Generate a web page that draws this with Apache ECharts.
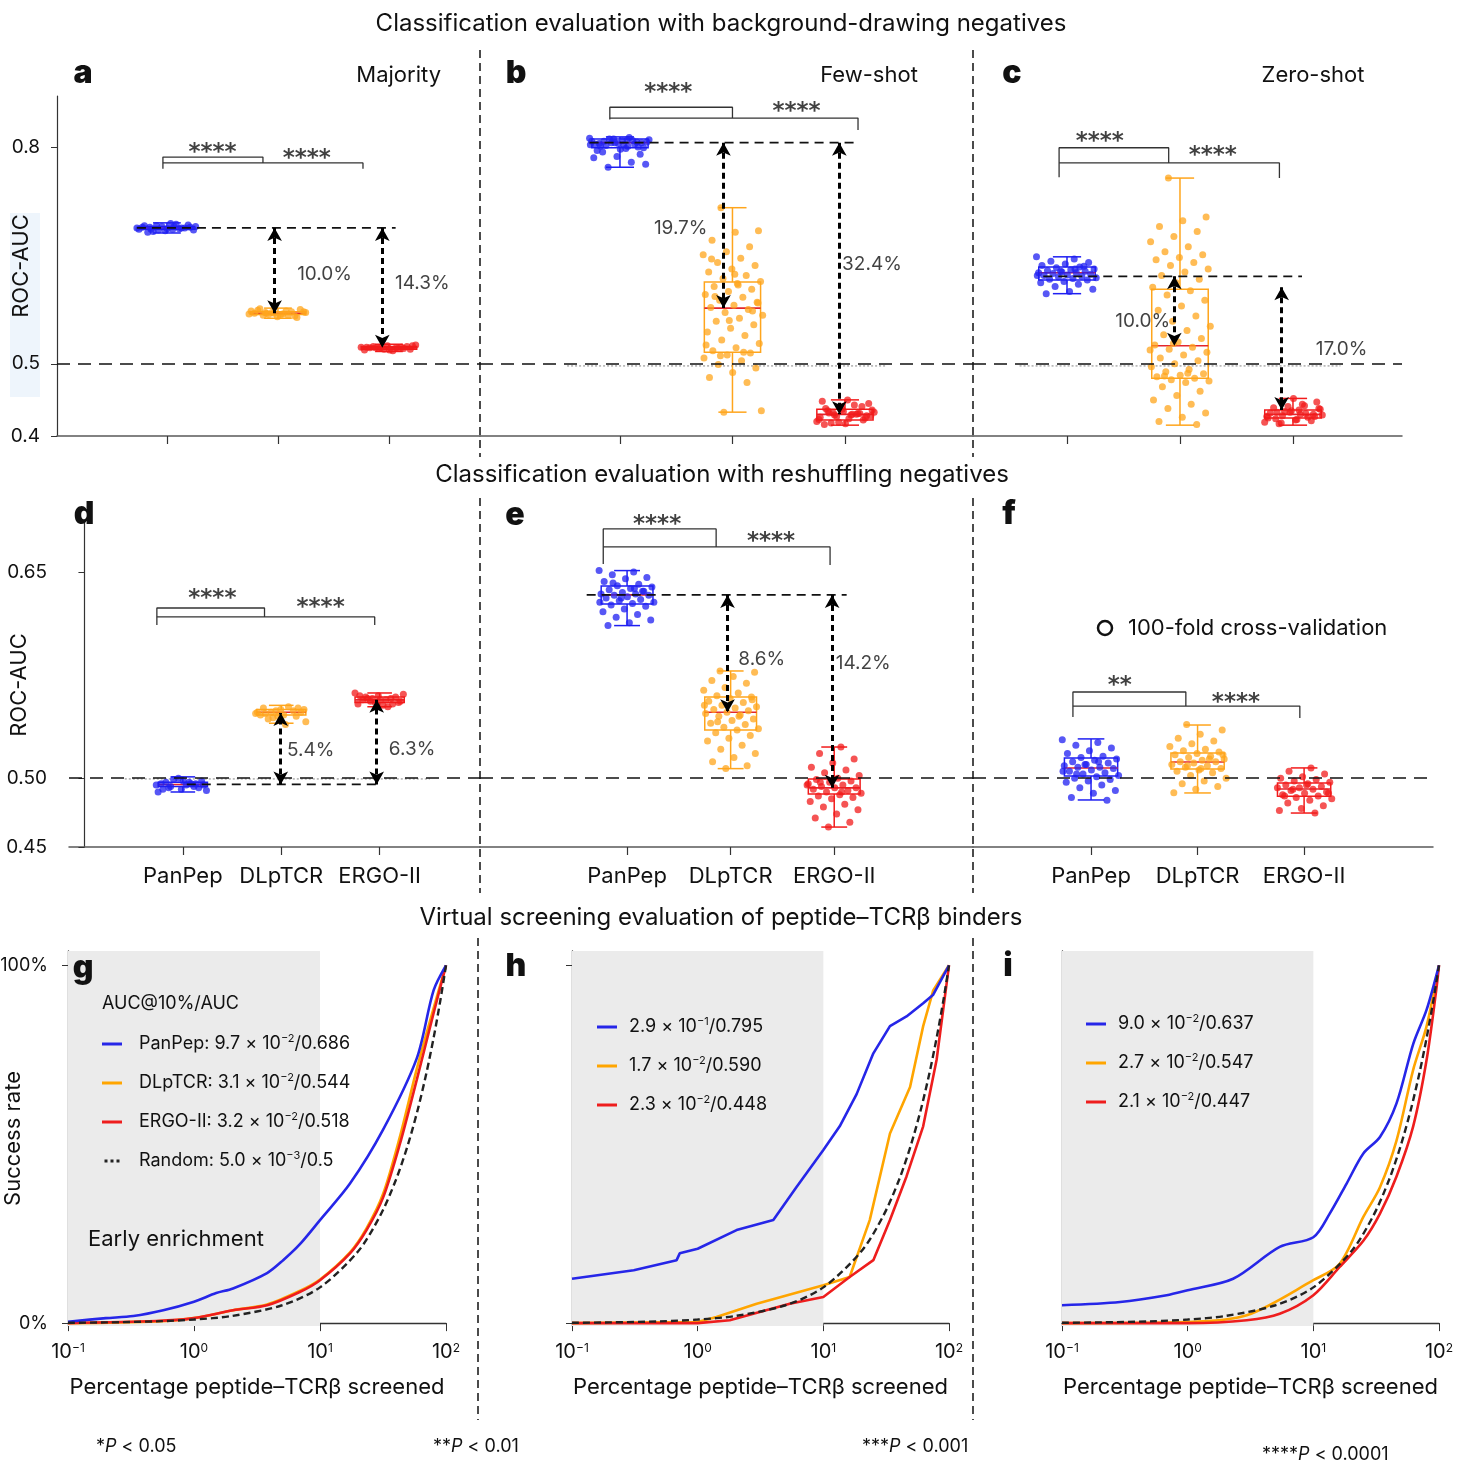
<!DOCTYPE html>
<html>
<head>
<meta charset="utf-8">
<script src="https://cdn.jsdelivr.net/npm/echarts@6/dist/echarts.min.js"></script>
<style>
  html, body { margin: 0; padding: 0; background: #fff; }
  #main { width: 1464px; height: 1480px; }
</style>
</head>
<body>
<div id="main"></div>
<script>
var FONT = 'Inter, Roboto, "Noto Sans", sans-serif';
var MODELS = ['PanPep', 'DLpTCR', 'ERGO-II'];
var COLORS = ['#1f1ff2', '#ffa51c', '#f21b1b'];
var LINE_COLORS = ['#2626e8', '#ffa500', '#ee1d1d'];

// ---- box summaries [min, Q1, median, Q3, max] per model ----
var A_BOX = [[0.681, 0.686, 0.688, 0.690, 0.695], [0.563, 0.568, 0.570, 0.572, 0.577], [0.517, 0.520, 0.522, 0.524, 0.527]];
var B_BOX = [[0.772, 0.799, 0.806, 0.811, 0.814], [0.433, 0.516, 0.577, 0.613, 0.716], [0.415, 0.422, 0.430, 0.437, 0.450]];
var C_BOX = [[0.597, 0.616, 0.626, 0.634, 0.648], [0.415, 0.480, 0.525, 0.603, 0.757], [0.415, 0.425, 0.430, 0.436, 0.452]];
var D_BOX = [[0.490, 0.494, 0.4955, 0.497, 0.501], [0.540, 0.546, 0.548, 0.550, 0.553], [0.552, 0.555, 0.557, 0.559, 0.562]];
var E_BOX = [[0.611, 0.6267, 0.6333, 0.6398, 0.651], [0.507, 0.535, 0.548, 0.559, 0.578], [0.4645, 0.4886, 0.493, 0.4995, 0.5227]];
var F_BOX = [[0.4842, 0.5016, 0.5075, 0.5147, 0.5286], [0.4893, 0.5067, 0.5118, 0.5184, 0.5387], [0.4747, 0.4869, 0.4922, 0.4965, 0.5075]];

// ---- ROC-AUC of each cross-validation fold ----
var A_PANPEP = [0.688, 0.690, 0.686, 0.692, 0.684, 0.689, 0.687, 0.691, 0.685, 0.694, 0.682, 0.688, 0.690, 0.686, 0.693, 0.683, 0.689, 0.687, 0.691, 0.688, 0.685, 0.690, 0.686, 0.689];
var A_DLPTCR = [0.570, 0.572, 0.568, 0.574, 0.566, 0.571, 0.569, 0.573, 0.567, 0.575, 0.565, 0.570, 0.572, 0.568, 0.571, 0.569, 0.576, 0.564, 0.570, 0.573, 0.567, 0.571];
var A_ERGO = [0.522, 0.524, 0.520, 0.525, 0.519, 0.523, 0.521, 0.526, 0.518, 0.522, 0.524, 0.520, 0.523, 0.521, 0.522, 0.525, 0.519, 0.523, 0.521, 0.522];

var B_PANPEP = [0.812, 0.810, 0.808, 0.806, 0.805, 0.804, 0.809, 0.811, 0.807, 0.803, 0.801, 0.800, 0.806, 0.808, 0.813, 0.802, 0.799, 0.797, 0.795, 0.804, 0.806, 0.810, 0.798, 0.793, 0.790, 0.787, 0.785, 0.779, 0.772, 0.776, 0.809, 0.805, 0.807, 0.811, 0.803, 0.801];
var B_DLPTCR = [0.716, 0.684, 0.682, 0.671, 0.662, 0.655, 0.651, 0.646, 0.640, 0.636, 0.631, 0.627, 0.622, 0.618, 0.614, 0.611, 0.607, 0.603, 0.600, 0.596, 0.592, 0.588, 0.585, 0.581, 0.578, 0.575, 0.571, 0.567, 0.563, 0.559, 0.554, 0.549, 0.544, 0.539, 0.533, 0.528, 0.522, 0.518, 0.515, 0.512, 0.508, 0.504, 0.499, 0.494, 0.488, 0.481, 0.474, 0.433, 0.435, 0.609, 0.593, 0.573, 0.560, 0.526, 0.516, 0.511, 0.584, 0.624, 0.645];
var B_ERGO = [0.430, 0.432, 0.428, 0.434, 0.426, 0.431, 0.429, 0.436, 0.424, 0.438, 0.422, 0.440, 0.420, 0.443, 0.418, 0.445, 0.417, 0.448, 0.431, 0.427, 0.433, 0.429, 0.435, 0.425, 0.437, 0.423, 0.430, 0.432, 0.428, 0.450, 0.416, 0.441, 0.419];

var C_PANPEP = [0.648, 0.645, 0.642, 0.640, 0.638, 0.636, 0.634, 0.633, 0.631, 0.630, 0.629, 0.628, 0.627, 0.626, 0.626, 0.625, 0.624, 0.623, 0.622, 0.621, 0.620, 0.619, 0.618, 0.617, 0.616, 0.614, 0.612, 0.610, 0.607, 0.603, 0.600, 0.597, 0.635, 0.628, 0.622, 0.631];
var C_DLPTCR = [0.757, 0.703, 0.698, 0.690, 0.683, 0.676, 0.669, 0.662, 0.655, 0.651, 0.647, 0.644, 0.640, 0.636, 0.631, 0.627, 0.622, 0.617, 0.612, 0.606, 0.601, 0.595, 0.588, 0.580, 0.574, 0.566, 0.559, 0.552, 0.546, 0.540, 0.535, 0.530, 0.526, 0.523, 0.520, 0.516, 0.512, 0.508, 0.504, 0.500, 0.496, 0.492, 0.489, 0.486, 0.484, 0.482, 0.480, 0.478, 0.476, 0.474, 0.468, 0.462, 0.456, 0.450, 0.444, 0.438, 0.432, 0.426, 0.420, 0.416, 0.528, 0.519, 0.487, 0.483];
var C_ERGO = [0.430, 0.433, 0.427, 0.435, 0.425, 0.431, 0.428, 0.437, 0.423, 0.439, 0.421, 0.441, 0.419, 0.444, 0.417, 0.447, 0.452, 0.432, 0.426, 0.434, 0.429, 0.436, 0.424, 0.430, 0.433, 0.427, 0.442, 0.418, 0.438, 0.422];

var D_PANPEP = [0.495, 0.497, 0.493, 0.498, 0.492, 0.496, 0.494, 0.499, 0.491, 0.495, 0.497, 0.493, 0.500, 0.490, 0.496, 0.494, 0.495, 0.498, 0.492, 0.496];
var D_DLPTCR = [0.548, 0.550, 0.546, 0.551, 0.545, 0.549, 0.547, 0.552, 0.543, 0.548, 0.550, 0.546, 0.549, 0.544, 0.541, 0.539, 0.547, 0.551, 0.545, 0.548];
var D_ERGO = [0.557, 0.559, 0.555, 0.560, 0.554, 0.558, 0.556, 0.561, 0.553, 0.557, 0.559, 0.555, 0.562, 0.552, 0.558, 0.556, 0.557, 0.560, 0.554, 0.558];

var E_PANPEP = [0.651, 0.650, 0.648, 0.646, 0.645, 0.643, 0.641, 0.640, 0.639, 0.638, 0.637, 0.636, 0.635, 0.634, 0.634, 0.633, 0.633, 0.632, 0.631, 0.630, 0.629, 0.628, 0.627, 0.626, 0.625, 0.623, 0.621, 0.619, 0.617, 0.615, 0.613, 0.611, 0.636, 0.631, 0.628, 0.638, 0.642];
var E_DLPTCR = [0.578, 0.577, 0.574, 0.571, 0.569, 0.566, 0.564, 0.562, 0.560, 0.559, 0.558, 0.556, 0.555, 0.553, 0.552, 0.551, 0.550, 0.549, 0.548, 0.547, 0.546, 0.545, 0.543, 0.542, 0.540, 0.539, 0.537, 0.536, 0.535, 0.533, 0.531, 0.529, 0.527, 0.524, 0.521, 0.518, 0.515, 0.512, 0.509, 0.507, 0.553, 0.545, 0.541, 0.557];
var E_ERGO = [0.5227, 0.518, 0.514, 0.511, 0.508, 0.506, 0.504, 0.502, 0.500, 0.499, 0.498, 0.497, 0.496, 0.495, 0.494, 0.493, 0.493, 0.492, 0.491, 0.490, 0.489, 0.488, 0.487, 0.486, 0.485, 0.483, 0.481, 0.479, 0.477, 0.474, 0.471, 0.468, 0.4645, 0.495, 0.490, 0.497];

var F_PANPEP = [0.528, 0.526, 0.524, 0.522, 0.520, 0.518, 0.516, 0.515, 0.514, 0.513, 0.512, 0.511, 0.510, 0.509, 0.508, 0.508, 0.507, 0.506, 0.505, 0.504, 0.503, 0.502, 0.501, 0.500, 0.499, 0.498, 0.497, 0.495, 0.493, 0.491, 0.489, 0.486, 0.484, 0.510, 0.505, 0.512, 0.503];
var F_DLPTCR = [0.539, 0.535, 0.532, 0.529, 0.527, 0.525, 0.523, 0.521, 0.520, 0.519, 0.518, 0.517, 0.516, 0.515, 0.514, 0.513, 0.512, 0.512, 0.511, 0.510, 0.509, 0.508, 0.507, 0.506, 0.505, 0.504, 0.502, 0.500, 0.498, 0.496, 0.494, 0.492, 0.4895, 0.514, 0.509, 0.517, 0.507];
var F_ERGO = [0.5075, 0.505, 0.503, 0.501, 0.500, 0.499, 0.498, 0.497, 0.496, 0.495, 0.494, 0.493, 0.493, 0.492, 0.491, 0.490, 0.489, 0.488, 0.487, 0.486, 0.485, 0.484, 0.482, 0.480, 0.478, 0.4765, 0.4748, 0.492, 0.489, 0.495, 0.487];

// ---- virtual screening curves [percentage screened, success rate %] ----
var G_PANPEP = [[0.1, 0.4], [0.2, 1.4], [0.33, 2.0], [0.57, 3.6], [1, 6], [1.5, 8.4], [2.04, 9.7], [3.8, 14], [5.1, 17.6], [6.9, 22], [10, 28.8], [17.3, 39], [31.6, 54], [58.6, 74], [79.7, 93], [100, 100]];
var G_DLPTCR = [[0.1, 0], [0.5, 0.5], [1, 1.4], [2.04, 3.6], [3.8, 5.2], [6.9, 9], [10, 12.2], [17.3, 19.8], [23.4, 26.5], [31.6, 36], [43, 52], [58.6, 71], [79.7, 88], [100, 100]];
var G_ERGO = [[0.1, 0], [0.5, 0.6], [1, 1.4], [2.04, 3.6], [3.8, 5], [6.9, 8.7], [10, 12], [17.3, 19.5], [23.4, 26], [31.6, 35], [43, 50], [58.6, 68], [79.7, 86.6], [100, 100]];
var H_PANPEP = [[0.1, 12.4], [0.31, 14.8], [0.68, 17.6], [0.72, 19.5], [1, 20.8], [2.04, 26], [4, 28.8], [6.1, 38], [10, 48.4], [13.5, 55], [18.4, 64], [25, 75.4], [33.9, 83], [45.9, 85.7], [62.3, 89.4], [74.9, 91.8], [100, 100]];
var H_DLPTCR = [[0.1, 0], [1, 0.3], [1.41, 1.7], [2.95, 5.4], [10, 10.6], [16.2, 12.9], [23.4, 28.8], [33.9, 53], [49, 66], [62.3, 83], [74.9, 93], [100, 100]];
var H_ERGO = [[0.1, 0], [1, 0], [1.8, 0.8], [5.4, 5.4], [10, 7.3], [16.2, 12.9], [25, 17.6], [33.9, 28.8], [45.9, 41], [62.3, 55], [79.7, 73.6], [100, 100]];
var I_PANPEP = [[0.1, 5], [0.29, 5.9], [0.68, 7.8], [1, 9.2], [2.3, 12.4], [5.4, 21.3], [10, 24], [13.5, 30.6], [18.4, 39], [25, 47.4], [33.9, 52], [45.9, 61.4], [62.3, 78], [79.7, 87.6], [100, 100]];
var I_DLPTCR = [[0.1, 0], [1, 0.3], [2.95, 2.2], [10, 12], [16.2, 16.6], [25, 29.7], [33.9, 38], [45.9, 51], [62.3, 70.8], [79.7, 83], [100, 100]];
var I_ERGO = [[0.1, 0], [1, 0], [2.95, 0.8], [5.4, 2.6], [10, 7.8], [16.2, 15.7], [25, 23], [33.9, 30.6], [45.9, 41], [62.3, 55], [79.7, 73.6], [95, 93], [100, 100]];
var RANDOM = [[0.1, 0.1], [0.2, 0.2], [0.5, 0.5], [1, 1], [2, 2], [5, 5], [10, 10], [20, 20], [30, 30], [40, 40], [50, 50], [60, 60], [70, 70], [80, 80], [90, 90], [100, 100]];

// AUC@10% / AUC
var G_AUC10 = [0.097, 0.031, 0.032, 0.005];
var G_AUC = ['0.686', '0.544', '0.518', '0.5'];
var H_AUC10 = [0.29, 0.017, 0.023];
var H_AUC = ['0.795', '0.590', '0.448'];
var I_AUC10 = [0.090, 0.027, 0.021];
var I_AUC = ['0.637', '0.547', '0.447'];

// ---- layout of the box panels ----
var PANELS = [
  { grid: [57, 96, 423, 340], xr: [0.01, 3.82], yr: [0.4, 0.8706], yTicks: [0.4, 0.5, 0.8], digits: 1, showY: true, names: false,
    box: A_BOX, pts: [A_PANPEP, A_DLPTCR, A_ERGO], ref: [0.73, 3.06, 0.688], dotted: null,
    arrows: [[1.97, 0.688, 0.570], [2.94, 0.688, 0.522]],
    pct: [['10.0%', 2.42, 0.624], ['14.3%', 3.30, 0.612]],
    br: [0.964, 1.865, 2.766, 0.786, 0.778, 0.770, 0.770], stars: [['****', 1.41, 0.792], ['****', 2.26, 0.783]] },
  { grid: [480, 96, 493, 340], xr: [-0.244, 4.138], yr: [0.4, 0.8706], yTicks: [0.4, 0.5, 0.8], digits: 1, showY: false, names: false,
    box: B_BOX, pts: [B_PANPEP, B_DLPTCR, B_ERGO], ref: [0.73, 3.12, 0.806], dotted: [0.53, 3.37, 0.497],
    arrows: [[1.92, 0.806, 0.577], [2.95, 0.806, 0.430]],
    pct: [['19.7%', 1.54, 0.688], ['32.4%', 3.24, 0.638]],
    br: [0.91, 2.0, 3.116, 0.855, 0.840, 0.838, 0.8235], stars: [['****', 1.43, 0.875], ['****', 2.57, 0.848]] },
  { grid: [973, 96, 429, 340], xr: [0.168, 3.965], yr: [0.4, 0.8706], yTicks: [0.4, 0.5, 0.8], digits: 1, showY: false, names: false,
    box: C_BOX, pts: [C_PANPEP, C_DLPTCR, C_ERGO], ref: [0.79, 3.08, 0.621], dotted: [0.58, 3.42, 0.497],
    arrows: [[1.95, 0.621, 0.525], [2.90, 0.606, 0.436]],
    pct: [['10.0%', 1.67, 0.559], ['17.0%', 3.43, 0.520]],
    br: [0.93, 1.90, 2.88, 0.799, 0.778, 0.758, 0.757], stars: [['****', 1.29, 0.807], ['****', 2.29, 0.788]] },
  { grid: [69, 523, 411, 324], xr: [-0.157, 4.02], yr: [0.45, 0.6856], yTicks: [0.45, 0.5, 0.65], digits: 2, showY: true, names: true,
    box: D_BOX, pts: [D_PANPEP, D_DLPTCR, D_ERGO], ref: [1.04, 3.0, 0.4955], dotted: [0.41, 3.51, 0.4995],
    arrows: [[1.995, 0.4955, 0.5475], [2.97, 0.4955, 0.557]],
    pct: [['5.4%', 2.30, 0.5206], ['6.3%', 3.33, 0.5213]],
    br: [0.736, 1.83, 2.95, 0.6238, 0.6173, 0.6115, 0.6115], stars: [['****', 1.30, 0.6300], ['****', 2.40, 0.6238]] },
  { grid: [480, 523, 493, 324], xr: [-0.42, 4.34], yr: [0.45, 0.6856], yTicks: [0.45, 0.5, 0.65], digits: 2, showY: false, names: true,
    box: E_BOX, pts: [E_PANPEP, E_DLPTCR, E_ERGO], ref: [0.61, 3.12, 0.6333], dotted: null,
    arrows: [[1.97, 0.6333, 0.548], [2.98, 0.6333, 0.493]],
    pct: [['8.6%', 2.30, 0.5867], ['14.2%', 3.28, 0.5838]],
    br: [0.77, 1.86, 2.96, 0.6813, 0.6682, 0.6558, 0.6551], stars: [['****', 1.29, 0.6842], ['****', 2.39, 0.6718]] },
  { grid: [973, 523, 460, 324], xr: [-0.108, 4.21], yr: [0.45, 0.6856], yTicks: [0.45, 0.5, 0.65], digits: 2, showY: false, names: true,
    box: F_BOX, pts: [F_PANPEP, F_DLPTCR, F_ERGO], ref: null, dotted: null,
    arrows: [], pct: [],
    br: [0.83, 1.89, 2.96, 0.5627, 0.5525, 0.5445, 0.5438], stars: [['**', 1.27, 0.5671], ['****', 2.36, 0.5547]] }
];

var CURVE_PANELS = [
  { grid: [68, 951, 378, 375], curves: [G_PANPEP, G_DLPTCR, G_ERGO], auc10: G_AUC10, auc: G_AUC, legend: [102, 1033], textPad: 12,
    prefix: true, yLabels: true, yTicks: true, early: true, smooth: 0.3 },
  { grid: [572, 951, 377, 375], curves: [H_PANPEP, H_DLPTCR, H_ERGO], auc10: H_AUC10, auc: H_AUC, legend: [597, 1016], textPad: 7,
    prefix: false, yLabels: false, yTicks: true, early: false, smooth: 0 },
  { grid: [1062, 951, 377, 375], curves: [I_PANPEP, I_DLPTCR, I_ERGO], auc10: I_AUC10, auc: I_AUC, legend: [1086, 1013], textPad: 7,
    prefix: false, yLabels: false, yTicks: false, early: false, smooth: 0.3 }
];

function jitter(i, k) {
  var f = (i * 0.618034 + k * 0.31) % 1;
  return (f * 2 - 1) * 0.27;
}

function sci(v) {
  var e = Math.floor(Math.log10(v) + 1e-9);
  var m = (v / Math.pow(10, e)).toFixed(1);
  return m + ' \u00d7 10{s|' + String(e).replace('-', '\u2212') + '}';
}

function renderBox(params, api) {
  var x = api.value(0);
  var lo = api.coord([x, api.value(1)]);
  var q1 = api.coord([x, api.value(2)]);
  var md = api.coord([x, api.value(3)]);
  var q3 = api.coord([x, api.value(4)]);
  var hi = api.coord([x, api.value(5)]);
  var w = api.size([0.5, 0])[0];
  var cx = lo[0];
  var c = COLORS[params.dataIndex];
  var st = { stroke: c, lineWidth: 1.5 };
  return {
    type: 'group',
    children: [
      { type: 'line', shape: { x1: cx, y1: hi[1], x2: cx, y2: q3[1] }, style: st },
      { type: 'line', shape: { x1: cx, y1: q1[1], x2: cx, y2: lo[1] }, style: st },
      { type: 'line', shape: { x1: cx - w / 4, y1: hi[1], x2: cx + w / 4, y2: hi[1] }, style: st },
      { type: 'line', shape: { x1: cx - w / 4, y1: lo[1], x2: cx + w / 4, y2: lo[1] }, style: st },
      { type: 'rect', shape: { x: cx - w / 2, y: q3[1], width: w, height: q1[1] - q3[1] },
        style: { stroke: c, lineWidth: 1.5, fill: 'rgba(0,0,0,0)' } },
      { type: 'line', shape: { x1: cx - w / 2, y1: md[1], x2: cx + w / 2, y2: md[1] },
        style: { stroke: '#e3262e', lineWidth: 1.6 } }
    ]
  };
}

function lineSeries(gi, pts, style, z) {
  return {
    type: 'line', xAxisIndex: gi, yAxisIndex: gi, data: pts, symbol: 'none',
    clip: false, silent: true, lineStyle: style, z: z || 4
  };
}

function textSeries(gi, items, size, weight, family) {
  return {
    type: 'scatter', xAxisIndex: gi, yAxisIndex: gi, clip: false, silent: true,
    symbolSize: 1, itemStyle: { color: 'rgba(0,0,0,0)' }, z: 6,
    data: items.map(function (t) { return { value: [t[1], t[2]], name: t[0] }; }),
    label: { show: true, position: 'inside', formatter: '{b}', color: '#111',
      fontSize: size, fontWeight: weight, fontFamily: family || FONT }
  };
}

var option = {
  animation: false,
  backgroundColor: '#fff',
  textStyle: { fontFamily: FONT },
  grid: [], xAxis: [], yAxis: [], series: [], legend: [], graphic: []
};

// ---- box plot panels ----
PANELS.forEach(function (p, gi) {
  option.grid.push({ left: p.grid[0], top: p.grid[1], width: p.grid[2], height: p.grid[3], outerBoundsMode: 'none' });
  option.xAxis.push({
    gridIndex: gi, type: 'value', min: p.xr[0], max: p.xr[1],
    axisLine: { show: true, lineStyle: { color: '#5a5a5a', width: 1.5 } },
    axisTick: { show: true, customValues: [1, 2, 3], length: 8, lineStyle: { color: '#333', width: 1.2 } },
    axisLabel: { show: p.names, customValues: [1, 2, 3], margin: 18, fontSize: 22, color: '#111',
      formatter: function (v) { return MODELS[Math.round(v) - 1]; } },
    splitLine: { show: false }
  });
  var y = {
    gridIndex: gi, type: 'value', min: p.yr[0], max: p.yr[1], show: p.showY,
    axisLine: { show: true, lineStyle: { color: '#333', width: 1.2 } },
    axisTick: { show: true, customValues: p.yTicks, length: 6, lineStyle: { color: '#333' } },
    axisLabel: { customValues: p.yTicks, margin: p.digits === 1 ? 17 : 22, fontSize: 19, color: '#111',
      formatter: function (v) { return v.toFixed(p.digits); } },
    splitLine: { show: false }
  };
  if (gi === 0 || gi === 3) {
    y.name = 'ROC-AUC';
    y.nameLocation = 'middle';
    y.nameMoveOverlap = false;
    y.nameGap = gi === 0 ? 25 : 39;
    y.nameTextStyle = { fontSize: 22, color: '#111' };
  }
  option.yAxis.push(y);

  option.series.push({
    type: 'custom', xAxisIndex: gi, yAxisIndex: gi, renderItem: renderBox, silent: true, z: 2,
    data: p.box.map(function (b, k) { return [k + 1].concat(b); })
  });

  p.pts.forEach(function (vals, k) {
    var s = {
      type: 'scatter', name: 'fold-' + gi + '-' + k, xAxisIndex: gi, yAxisIndex: gi, silent: true, z: 3,
      symbolSize: 7, itemStyle: { color: COLORS[k], opacity: 0.75 },
      data: vals.map(function (v, i) { return [k + 1 + jitter(i, k), v]; })
    };
    if (k === 0) {
      var ml = [{ yAxis: 0.5, lineStyle: { type: [13, 8], color: '#111', width: 1.6 } }];
      var arrowStyle = { type: [6, 4], color: '#000', width: 3 };
      p.arrows.forEach(function (a) {
        ml.push([
          { coord: [a[0], a[1]], symbol: 'arrow', symbolSize: [11, 13], lineStyle: arrowStyle },
          { coord: [a[0], a[2]], symbol: 'arrow', symbolSize: [11, 13], lineStyle: arrowStyle }
        ]);
      });
      s.markLine = { silent: true, symbol: ['none', 'none'], label: { show: false }, animation: false, z: 5, data: ml };
    }
    option.series.push(s);
  });

  if (p.ref) {
    option.series.push(lineSeries(gi, [[p.ref[0], p.ref[2]], [p.ref[1], p.ref[2]]],
      { type: [9, 6], color: '#111', width: 1.8 }, 4));
  }
  if (p.dotted) {
    option.series.push(lineSeries(gi, [[p.dotted[0], p.dotted[2]], [p.dotted[1], p.dotted[2]]],
      { type: [2, 2], color: '#9a9a9a', width: 1.2 }, 1));
  }
  var b = p.br;
  var brStyle = { color: '#333', width: 1.3, type: 'solid' };
  option.series.push(lineSeries(gi, [[b[0], b[5]], [b[0], b[3]], [b[1], b[3]], [b[1], b[4]]], brStyle, 4));
  option.series.push(lineSeries(gi, [[b[0], b[4]], [b[2], b[4]], [b[2], b[6]]], brStyle, 4));
  option.series.push(textSeries(gi, p.stars, 23, 'bold', '"DejaVu Sans", sans-serif'));
  if (p.pct.length) option.series.push(textSeries(gi, p.pct, 19, 'normal'));
});

// ---- virtual screening panels ----
var DOTS = 'path://M0,0h4v4h-4zM8,0h4v4h-4zM16,0h4v4h-4z';
CURVE_PANELS.forEach(function (p, ci) {
  var gi = PANELS.length + ci;
  option.grid.push({ left: p.grid[0], top: p.grid[1], width: p.grid[2], height: p.grid[3], outerBoundsMode: 'none' });
  option.xAxis.push({
    gridIndex: gi, type: 'log', logBase: 10, min: 0.1, max: 100,
    name: 'Percentage peptide\u2013TCR\u03b2 screened', nameLocation: 'middle', nameGap: 50, nameMoveOverlap: false,
    nameTextStyle: { fontSize: 22, color: '#111' },
    axisLine: { show: true, lineStyle: { color: '#333', width: 1.3 } },
    axisTick: { show: true, length: 8, lineStyle: { color: '#333' } },
    minorTick: { show: false },
    axisLabel: { margin: 16, fontSize: 20, color: '#111',
      formatter: function (v) {
        var e = Math.round(Math.log10(v));
        return '10{s|' + String(e).replace('-', '\u2212') + '}';
      },
      rich: { s: { fontSize: 12, verticalAlign: 'top', color: '#111' } } },
    splitLine: { show: false }
  });
  var y = {
    gridIndex: gi, type: 'value', min: -0.8, max: 104,
    axisLine: { show: true, lineStyle: { color: '#333', width: 1.3 } },
    axisTick: { show: p.yTicks, customValues: [0, 100], length: 6, lineStyle: { color: '#333' } },
    axisLabel: { show: p.yLabels, customValues: [0, 100], margin: 20, fontSize: 18, color: '#111',
      formatter: function (v) { return v + '%'; } },
    splitLine: { show: false }
  };
  if (p.yLabels) {
    y.name = 'Success rate';
    y.nameLocation = 'middle';
    y.nameMoveOverlap = false;
    y.nameGap = 44;
    y.nameTextStyle = { fontSize: 22, color: '#111' };
  }
  option.yAxis.push(y);

  var legendNames = [];
  p.curves.forEach(function (pts, k) {
    var s = {
      type: 'line', name: MODELS[k], xAxisIndex: gi, yAxisIndex: gi, data: pts, showSymbol: false, symbol: 'none',
      smooth: p.smooth, color: LINE_COLORS[k], lineStyle: { color: LINE_COLORS[k], width: 2.6 }, z: 3 + (k === 0 ? 1 : 0)
    };
    if (k === 0) {
      s.markArea = {
        silent: true, itemStyle: { color: '#ebebeb' },
        label: p.early ? { show: true, position: [20, 277], formatter: 'Early enrichment', fontSize: 22, color: '#111' } : { show: false },
        data: [[{ xAxis: 0.1, yAxis: 104 }, { xAxis: 10, yAxis: -0.8 }]]
      };
    }
    option.series.push(s);
    legendNames.push({ name: MODELS[k], icon: 'rect' });
  });
  option.series.push({
    type: 'line', name: 'Random', xAxisIndex: gi, yAxisIndex: gi, data: RANDOM, showSymbol: false, symbol: 'none',
    smooth: 0.3, color: '#222', lineStyle: { color: '#222', width: 2.4, type: [7, 4] }, z: 5
  });
  if (p.prefix) legendNames.push({ name: 'Random', icon: DOTS });

  var texts = p.curves.map(function (c, k) { return (p.prefix ? MODELS[k] + ': ' : '') + sci(p.auc10[k]) + '/' + p.auc[k]; });
  if (p.prefix) texts.push('Random: ' + sci(p.auc10[3]) + '/' + p.auc[3]);
  option.legend.push({
    left: p.legend[0], top: p.legend[1], orient: 'vertical', itemWidth: 20, itemHeight: 3, itemGap: 17, padding: 0,
    selectedMode: false, data: legendNames,
    formatter: function (name) {
      var idx = name === 'Random' ? 3 : MODELS.indexOf(name);
      return texts[idx];
    },
    textStyle: { fontSize: 18, color: '#111', lineHeight: 22, padding: [0, 0, 0, p.textPad],
      rich: { s: { fontSize: 11, verticalAlign: 'top', color: '#111' } } }
  });
});

// ---- titles, panel letters, separators, notes ----
function txt(x, y, text, size, extra) {
  var st = { text: text, x: x, y: y, fill: '#111', fontSize: size, fontFamily: FONT,
    textAlign: 'center', textVerticalAlign: 'middle' };
  for (var k in extra) st[k] = extra[k];
  return { type: 'text', z: 10, style: st };
}
var G = option.graphic;
G.push({ type: 'rect', z: -1, shape: { x: 10, y: 213, width: 30, height: 184 }, style: { fill: '#eef5fc' } });
G.push(txt(721, 24, 'Classification evaluation with background-drawing negatives', 24));
G.push(txt(722, 475, 'Classification evaluation with reshuffling negatives', 24));
G.push(txt(721, 918, 'Virtual screening evaluation of peptide\u2013TCR\u03b2 binders', 24));
[['a', 83, 73], ['b', 516, 73], ['c', 1012, 73], ['d', 84, 514], ['e', 515, 515], ['f', 1009, 514],
 ['g', 83, 968], ['h', 516, 966], ['i', 1008, 966]].forEach(function (l) {
  G.push(txt(l[1], l[2], l[0], 32, { fontWeight: 900 }));
});
G.push(txt(441, 75, 'Majority', 22, { textAlign: 'right' }));
G.push(txt(869, 75, 'Few-shot', 22));
G.push(txt(1313, 75, 'Zero-shot', 22));
G.push(txt(102, 1004, 'AUC@10%/AUC', 18, { textAlign: 'left' }));
G.push({ type: 'circle', z: 10, shape: { cx: 1105, cy: 628, r: 7 }, style: { fill: 'none', stroke: '#111', lineWidth: 2.5 } });
G.push(txt(1128, 628, '100-fold cross-validation', 22, { textAlign: 'left' }));
var noteRich = { i: { fontStyle: 'italic', fontSize: 18, fontFamily: FONT, fill: '#111' } };
G.push(txt(96, 1447, '*{i|P} < 0.05', 18, { textAlign: 'left', rich: noteRich }));
G.push(txt(433, 1447, '**{i|P} < 0.01', 18, { textAlign: 'left', rich: noteRich }));
G.push(txt(862, 1447, '***{i|P} < 0.001', 18, { textAlign: 'left', rich: noteRich }));
G.push(txt(1262, 1455, '****{i|P} < 0.0001', 18, { textAlign: 'left', rich: noteRich }));
[[480, 50, 457], [480, 498, 893], [478, 938, 1420], [973, 50, 457], [973, 498, 893], [973, 938, 1420]].forEach(function (s) {
  G.push({ type: 'line', z: 1, shape: { x1: s[0], y1: s[1], x2: s[0], y2: s[2] },
    style: { stroke: '#111', lineWidth: 1.5, lineDash: [8, 5] } });
});

var chart = echarts.init(document.getElementById('main'), null, { renderer: 'canvas' });
chart.setOption(option);
</script>
</body>
</html>
